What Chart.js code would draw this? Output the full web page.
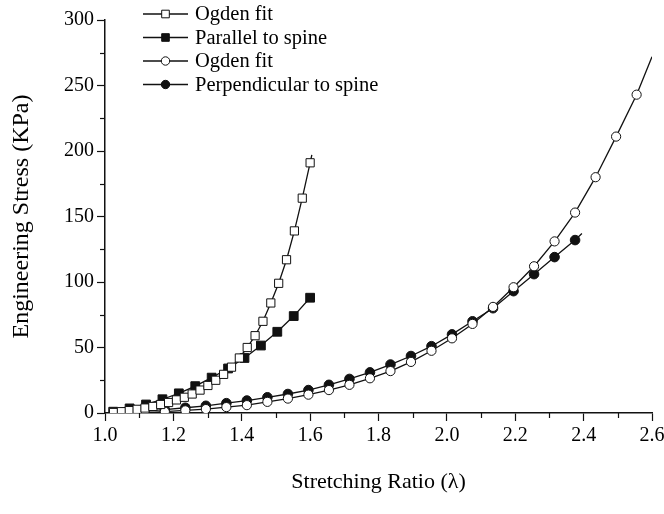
<!DOCTYPE html>
<html>
<head>
<meta charset="utf-8">
<script src="https://cdn.jsdelivr.net/npm/chart.js@4/dist/chart.umd.min.js"></script>
<style>
html,body{margin:0;padding:0;background:#fff;}
#wrap{width:664px;height:514px;}
</style>
</head>
<body>
<div id="wrap"><canvas id="c" width="664" height="514"></canvas></div>
<script>
// ---- data ----
const seriesNames = ["Ogden fit", "Parallel to spine", "Ogden fit", "Perpendicular to spine"];

// Ogden fit (parallel) - open squares (last point = end of curve, no marker)
const fitParX = [1.025,1.048,1.071,1.094,1.117,1.14,1.163,1.186,1.209,1.232,1.255,1.278,1.301,1.324,1.347,1.37,1.393,1.416,1.439,1.462,1.485,1.508,1.531,1.554,1.577,1.6,1.605];
const fitParY = [0.4,1,1.8,2.8,3.8,5,6.5,8,10,12,14.5,17.5,21,25,29.5,35,42,50,59,70,84,99,117,139,164,191,197];

// Parallel to spine - filled squares
const parX = [1.024,1.072,1.12,1.168,1.216,1.264,1.312,1.36,1.408,1.456,1.504,1.552,1.6];
const parY = [1,3.5,6.5,10.5,15,20.5,27,34,42,51.5,62,74,88];

// Ogden fit (perpendicular) - open circles (last point = end of curve, no marker)
const fitPerX = [1.055,1.115,1.175,1.235,1.295,1.355,1.415,1.475,1.535,1.595,1.655,1.715,1.775,1.835,1.895,1.955,2.015,2.075,2.135,2.195,2.255,2.315,2.375,2.435,2.495,2.555,2.6];
const fitPerY = [0,0.3,1,2,3,4.5,6,8.5,11,14,17.5,21.5,26.5,32,39,47.5,57,68,81,96,112,131,153,180,211,243,272];

// Perpendicular to spine - filled circles (last point = end of line, no marker)
const perX = [1.055,1.115,1.175,1.235,1.295,1.355,1.415,1.475,1.535,1.595,1.655,1.715,1.775,1.835,1.895,1.955,2.015,2.075,2.135,2.195,2.255,2.315,2.375,2.395];
const perY = [0.5,1.5,2.5,4,5.5,7.5,9.5,12,14.5,17.5,21.5,26,31,37,43.5,51,60,70,80,93,106,119,132,137];

const xAxisRange = {min:1.0, max:2.6, major:0.2, minor:0.1};
const yAxisRange = {min:0, max:300, major:50, minor:25};

// ---- build ----
function pts(xs, ys){ return xs.map((x,i)=>({x:x, y:ys[i]})); }
const FONT = "'Liberation Serif', 'Times New Roman', serif";

function noLastMarker(r, hasEnd){
  return ctx => (hasEnd && ctx.dataIndex === ctx.dataset.data.length-1) ? 0 : r;
}

const styles = [
  {pointStyle:'rect', radius:5.8, fill:'#fff', end:true},
  {pointStyle:'rect', radius:6.2, fill:'#111', end:false},
  {pointStyle:'circle', radius:4.6, fill:'#fff', end:true},
  {pointStyle:'circle', radius:4.8, fill:'#111', end:true}
];
const raw = [[fitParX,fitParY],[parX,parY],[fitPerX,fitPerY],[perX,perY]];

const datasets = raw.map((d,i)=>({
  label: seriesNames[i],
  data: pts(d[0], d[1]),
  showLine: true,
  borderColor: '#111',
  borderWidth: 1.3,
  pointStyle: styles[i].pointStyle,
  pointRadius: noLastMarker(styles[i].radius, styles[i].end),
  pointBackgroundColor: styles[i].fill,
  pointBorderColor: '#111',
  pointBorderWidth: 1,
  tension: 0
}));

const legendPlugin = {
  id: 'customLegend',
  afterDraw(chart){
    const ctx = chart.ctx;
    const x0 = 143, x1 = 188, xm = 165.5, tx = 195;
    const ys = [14, 37.5, 61, 84.5];
    ctx.save();
    ctx.font = "20.5px " + FONT;
    ctx.textBaseline = 'middle';
    seriesNames.forEach((name,i)=>{
      const y = ys[i];
      ctx.strokeStyle = '#111';
      ctx.lineWidth = 1.3;
      ctx.beginPath(); ctx.moveTo(x0,y); ctx.lineTo(x1,y); ctx.stroke();
      ctx.fillStyle = styles[i].fill;
      ctx.lineWidth = 1;
      ctx.beginPath();
      if (styles[i].pointStyle === 'rect') {
        ctx.rect(xm-3.8, y-3.8, 7.6, 7.6);
      } else {
        ctx.arc(xm, y, 4.2, 0, Math.PI*2);
      }
      ctx.fill(); ctx.stroke();
      ctx.fillStyle = '#000';
      ctx.fillText(name, tx, y+1);
    });
    ctx.restore();
  }
};

// minor ticks (shorter, unlabeled), placed through the scales
const minorTicksPlugin = {
  id: 'minorTicks',
  afterDraw(chart){
    const ctx = chart.ctx;
    const xs = chart.scales.x, ys = chart.scales.y;
    ctx.save();
    ctx.strokeStyle = '#111';
    ctx.lineWidth = 1.2;
    const nx = Math.round((xAxisRange.max - xAxisRange.min)/xAxisRange.minor);
    for (let i=1;i<nx;i+=2){
      const v = xAxisRange.min + i*xAxisRange.minor;
      const px = Math.round(xs.getPixelForValue(v))+0.5;
      ctx.beginPath(); ctx.moveTo(px, xs.top); ctx.lineTo(px, xs.top+5); ctx.stroke();
    }
    const ny = Math.round((yAxisRange.max - yAxisRange.min)/yAxisRange.minor);
    for (let i=1;i<ny;i+=2){
      const v = yAxisRange.min + i*yAxisRange.minor;
      const py = Math.round(ys.getPixelForValue(v))+0.5;
      ctx.beginPath(); ctx.moveTo(ys.right, py); ctx.lineTo(ys.right-5, py); ctx.stroke();
    }
    ctx.restore();
  }
};

new Chart(document.getElementById('c'), {
  type: 'scatter',
  data: { datasets },
  options: {
    responsive: false,
    animation: false,
    devicePixelRatio: 1,
    layout: { padding: {left: 3, right: 12, top: 20, bottom: 19} },
    plugins: { legend: {display:false}, tooltip: {enabled:false} },
    scales: {
      x: {
        type: 'linear', min: xAxisRange.min, max: xAxisRange.max,
        afterFit: s => { s.height = 514 - 413 - 19; s.paddingRight = 0; s.paddingLeft = 0; },
        ticks: {
          stepSize: xAxisRange.major, autoSkip: false, maxRotation: 0,
          color: '#000', font: {family: FONT, size: 20}, padding: 3,
          callback: v => v.toFixed(1)
        },
        grid: { drawOnChartArea: false, drawTicks: true, tickLength: 8, tickColor: '#111', tickWidth: 1.2 },
        border: { display: true, color: '#111', width: 1.5 },
        title: { display: true, text: 'Stretching Ratio (λ)', color: '#000', font: {family: FONT, size: 22}, padding: {top: 0, bottom: 0} }
      },
      y: {
        type: 'linear', min: yAxisRange.min, max: yAxisRange.max,
        afterFit: s => { s.width = 105 - 3; },
        ticks: {
          stepSize: yAxisRange.major, autoSkip: false,
          color: '#000', font: {family: FONT, size: 20}, padding: 3,
          callback: v => String(v)
        },
        grid: { drawOnChartArea: false, drawTicks: true, tickLength: 8, tickColor: '#111', tickWidth: 1.2 },
        border: { display: true, color: '#111', width: 1.5 },
        title: { display: true, text: 'Engineering Stress (KPa)', color: '#000', font: {family: FONT, size: 24}, padding: {top: 4, bottom: 0} }
      }
    }
  },
  plugins: [minorTicksPlugin, legendPlugin]
});
</script>
</body>
</html>
